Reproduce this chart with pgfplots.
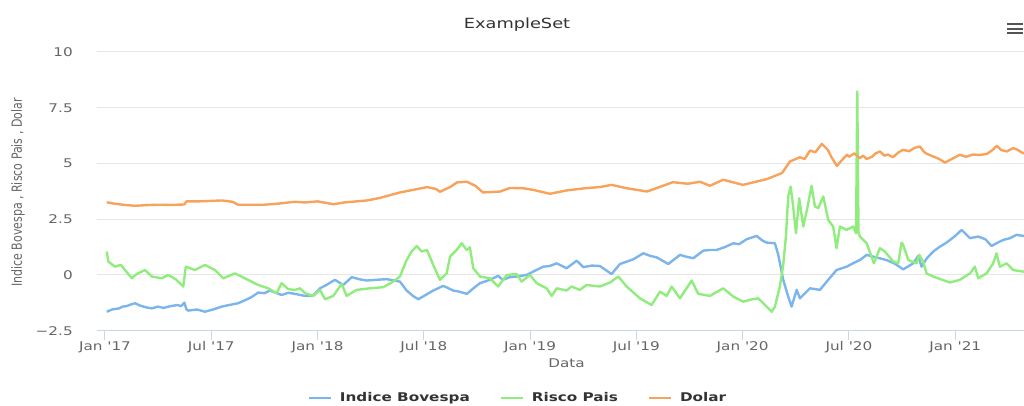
\documentclass[border=0pt]{standalone}
\usepackage{fontspec}
\setmainfont{DejaVu Sans}
\usepackage{pgfplots}
\pgfplotsset{compat=1.18}

\definecolor{bov}{HTML}{7CB5EC}
\definecolor{risco}{HTML}{90ED7D}
\definecolor{dolar}{HTML}{F7A35C}
\definecolor{txt}{HTML}{333333}
\definecolor{lbl}{HTML}{666666}
\definecolor{gridc}{HTML}{E6E6E6}
\definecolor{axisc}{HTML}{CCD6EB}

% the reference text looks stretched sideways
\newcommand{\hs}[1]{\scalebox{1.27}[1]{#1}}
\newcommand{\tl}[2]{\hs{#1 \textquotesingle#2}}

\begin{document}
\begin{tikzpicture}
\useasboundingbox (0,0) rectangle (768pt,304.5pt);
\begin{axis}[
    at={(72.5pt,56.5pt)}, anchor=south west,
    scale only axis, width=703.7pt, height=209pt,
    xmin=-0.47, xmax=52.5, ymin=-2.5, ymax=10,
    axis x line=bottom, axis y line=left,
    y axis line style={draw=none},
    x axis line style={axisc, line width=0.75pt, -},
    xtick={0,6,12,18,24,30,36,42,48},
    xticklabels={\tl{Jan}{17},\tl{Jul}{17},\tl{Jan}{18},\tl{Jul}{18},\tl{Jan}{19},\tl{Jul}{19},\tl{Jan}{20},\tl{Jul}{20},\tl{Jan}{21}},
    ytick={-2.5,0,2.5,5,7.5,10},
    yticklabels={\hs{−2.5},\hs{0},\hs{2.5},\hs{5},\hs{7.5},\hs{10}},
    ymajorgrids, grid style={gridc, line width=0.75pt},
    tick align=outside, major tick length=6.75pt,
    x tick style={axisc, line width=0.75pt},
    y tick style={draw=none},
    tick label style={font=\fontsize{9}{10}\selectfont, text=lbl},
    xticklabel style={anchor=north, inner sep=0pt, yshift=-1pt},
    yticklabel style={anchor=east, inner sep=0pt, xshift=-11pt},
    legend style={at={(0.448,-0.2416)}, anchor=center, draw=none, fill=none,
        legend columns=3, font=\fontsize{9}{10}\selectfont\bfseries, text=txt,
        nodes={inner sep=0pt},
        /tikz/every odd column/.append style={column sep=6pt},
        /tikz/every even column/.append style={column sep=22.5pt}},
    legend image code/.code={\draw[#1, line width=1.5pt] (0pt,0pt) -- (16.5pt,0pt);},
    every axis plot/.append style={line width=1.8pt, line join=round},
]

% Indice Bovespa
\addplot[bov] coordinates {
(0.10,-1.65) (0.4,-1.55) (0.8,-1.50) (1.0,-1.42) (1.2,-1.40) (1.45,-1.33) (1.69,-1.27) (2.0,-1.38) (2.3,-1.45)
(2.64,-1.50) (3.0,-1.42) (3.3,-1.48) (3.7,-1.40) (4.1,-1.35) (4.3,-1.40) (4.48,-1.24) (4.60,-1.55)
(4.70,-1.60) (5.2,-1.55) (5.64,-1.65) (6.1,-1.55) (6.59,-1.42) (7.0,-1.35) (7.52,-1.27)
(8.0,-1.10) (8.3,-0.98) (8.65,-0.79) (9.0,-0.82) (9.31,-0.70) (9.97,-0.90) (10.35,-0.80) (10.73,-0.85) (11.29,-0.94)
(11.76,-0.92) (12.14,-0.60) (12.5,-0.45) (12.98,-0.22) (13.45,-0.45) (13.93,-0.10) (14.4,-0.20) (14.77,-0.25)
(15.3,-0.22) (15.90,-0.19) (16.3,-0.25) (16.65,-0.30) (17.03,-0.70) (17.4,-0.95) (17.69,-1.09) (18.1,-0.90)
(18.53,-0.70) (19.10,-0.49) (19.66,-0.70) (20.0,-0.75) (20.43,-0.85) (20.8,-0.60) (21.17,-0.37) (21.73,-0.22)
(22.20,-0.04) (22.45,-0.22) (22.86,-0.10) (23.24,-0.07) (23.81,0.00) (24.3,0.20) (24.74,0.37)
(25.1,0.40) (25.50,0.52) (26.06,0.30) (26.63,0.64) (27.0,0.35) (27.5,0.42) (27.94,0.40) (28.60,0.04)
(29.07,0.49) (29.82,0.70) (30.39,0.97) (30.8,0.85) (31.14,0.79) (31.80,0.49) (32.46,0.90) (32.8,0.82) (33.21,0.75)
(33.78,1.09) (34.15,1.12) (34.53,1.12) (35.0,1.25) (35.47,1.42) (35.8,1.38) (36.22,1.60) (36.79,1.75)
(37.1,1.55) (37.35,1.45) (37.82,1.42) (38.01,0.90) (38.29,-0.22) (38.57,-0.97) (38.76,-1.42) (39.05,-0.67)
(39.23,-1.05) (39.80,-0.60) (40.36,-0.67) (40.83,-0.22) (41.30,0.22) (41.87,0.37) (42.3,0.55) (42.62,0.67)
(43.00,0.90) (43.37,0.82) (44.12,0.67) (44.6,0.50) (45.06,0.25) (45.63,0.52) (45.91,0.85)
(46.10,0.37) (46.4,0.75) (46.76,1.05) (47.1,1.25) (47.51,1.45) (48.0,1.75) (48.36,2.02) (48.83,1.65) (49.3,1.72)
(49.7,1.60) (50.05,1.30) (50.4,1.45) (50.71,1.57) (51.1,1.65) (51.46,1.80) (51.84,1.75) (52.5,1.80)
};
\addlegendentry{\hs{Indice Bovespa}}

% Risco Pais
\addplot[risco] coordinates {
(0.10,1.05) (0.19,0.60) (0.56,0.37) (0.9,0.45) (1.13,0.22) (1.51,-0.15) (1.8,0.05)
(2.26,0.22) (2.64,-0.07) (3.20,-0.15) (3.57,0.00) (4.0,-0.20) (4.42,-0.52) (4.56,0.37)
(5.08,0.22) (5.64,0.45) (6.21,0.22) (6.68,-0.15) (7.34,0.07) (7.90,-0.15) (8.65,-0.45)
(9.22,-0.60) (9.69,-0.82) (9.97,-0.37) (10.35,-0.64) (10.73,-0.67) (11.01,-0.60) (11.3,-0.82)
(11.76,-0.94) (12.14,-0.67) (12.42,-1.09) (12.89,-0.94) (13.36,-0.40) (13.64,-0.94) (14.21,-0.67)
(14.96,-0.60) (15.71,-0.55) (16.27,-0.30) (16.65,-0.07) (17.03,0.67) (17.31,1.05) (17.60,1.30)
(17.88,1.05) (18.18,1.12) (18.53,0.45) (18.91,-0.22) (19.29,0.07) (19.48,0.82) (19.85,1.12)
(20.14,1.42) (20.42,1.12) (20.60,1.24) (20.79,0.30) (21.17,-0.07) (21.73,-0.15) (22.20,-0.52)
(22.68,0.00) (23.24,0.04) (23.52,-0.30) (23.99,0.00) (24.37,-0.37) (24.93,-0.60) (25.22,-0.94)
(25.50,-0.60) (26.06,-0.70) (26.34,-0.52) (26.8,-0.67) (27.19,-0.45) (27.94,-0.52) (28.51,-0.34)
(28.98,-0.07) (29.45,-0.52) (30.20,-1.05) (30.86,-1.35) (31.33,-0.75) (31.71,-0.94) (31.99,-0.52)
(32.46,-1.05) (33.12,-0.25) (33.49,-0.85) (34.15,-0.94) (34.90,-0.60) (35.47,-0.97) (36.03,-1.20)
(36.5,-1.10) (36.88,-1.05) (37.16,-1.27) (37.64,-1.65) (37.82,-1.42) (38.10,-0.52) (38.29,0.45)
(38.44,1.72) (38.57,3.52) (38.71,3.96) (38.85,3.07) (39.01,1.87) (39.19,3.44) (39.42,2.17)
(39.61,2.85) (39.89,4.00) (40.08,3.07) (40.27,3.00) (40.55,3.52) (40.83,2.47) (41.11,2.17)
(41.30,1.20) (41.49,2.17) (41.87,2.02) (42.24,2.17) (42.40,1.87) (42.47,8.23)
(42.54,1.90) (42.62,1.72) (43.00,1.42) (43.41,0.52) (43.75,1.20) (44.03,1.05) (44.50,0.60)
(44.78,0.52) (44.97,1.45) (45.06,1.35) (45.35,0.67) (45.82,0.52) (45.97,0.90) (46.19,0.60)
(46.38,0.07) (46.76,-0.07) (47.2,-0.20) (47.70,-0.34) (48.26,-0.22) (48.83,0.07) (49.11,0.37) (49.30,-0.15)
(49.77,0.07) (50.14,0.52) (50.33,0.97) (50.52,0.37) (50.90,0.52) (51.27,0.22) (51.84,0.15)
(52.5,0.15)
};
\addlegendentry{\hs{Risco Pais}}

% Dolar
\addplot[dolar] coordinates {
(0.10,3.26) (0.5,3.20) (1.0,3.15) (1.69,3.10) (2.3,3.13) (3.0,3.15) (3.7,3.14) (4.48,3.16)
(4.60,3.30) (5.3,3.30) (6.0,3.32) (6.6,3.34) (7.2,3.28) (7.52,3.15) (8.2,3.15) (9.0,3.15)
(9.8,3.20) (10.7,3.28) (11.3,3.25) (12.0,3.30) (12.9,3.17) (13.5,3.25) (14.79,3.34) (15.5,3.45)
(16.65,3.70) (17.3,3.80) (18.18,3.94) (18.7,3.85) (18.91,3.73) (19.5,3.95) (19.87,4.15)
(20.43,4.18) (20.9,4.00) (21.34,3.70) (22.30,3.74) (22.86,3.90) (23.60,3.89) (24.2,3.81)
(25.12,3.64) (26.06,3.79) (27.0,3.88) (28.0,3.95) (28.60,4.04) (29.45,3.89) (30.60,3.74)
(32.06,4.16) (32.9,4.09) (33.59,4.18) (34.15,4.00) (34.90,4.27) (36.01,4.04) (37.37,4.30)
(38.22,4.57) (38.67,5.09) (39.23,5.28) (39.5,5.20) (39.80,5.58) (40.1,5.50) (40.47,5.88) (40.81,5.61)
(41.0,5.30) (41.32,4.89) (41.6,5.15) (41.89,5.39) (42.0,5.30) (42.3,5.45) (42.62,5.24) (42.8,5.35)
(43.0,5.20) (43.3,5.30) (43.5,5.45) (43.75,5.54) (44.0,5.35) (44.2,5.40) (44.48,5.28) (44.8,5.50)
(45.05,5.61) (45.4,5.55) (45.7,5.70) (46.01,5.76) (46.2,5.55) (46.40,5.43) (46.8,5.30) (47.1,5.20)
(47.42,5.04) (47.8,5.20) (48.26,5.39) (48.6,5.30) (49.0,5.40) (49.4,5.38) (49.79,5.43) (50.1,5.60)
(50.35,5.79) (50.6,5.60) (50.92,5.54) (51.26,5.69) (51.5,5.62) (51.82,5.46) (52.1,5.50) (52.5,5.45)
};
\addlegendentry{\hs{Dolar}}

\end{axis}

\node[text=txt, font=\fontsize{10.5}{12}\selectfont] at (387.75pt,285.75pt) {\hs{ExampleSet}};
\node[rotate=90, text=lbl, font=\fontsize{8.25}{10}\selectfont] at (13.5pt,160.1pt)
    {\scalebox{1}[1.27]{Indice Bovespa , Risco Pais , Dolar}};
\node[text=lbl, font=\fontsize{9}{10}\selectfont] at (424.9pt,32.25pt) {\hs{Data}};
\foreach \yy in {286.5,283.0,279.5}
    \draw[black!67, line width=1.5pt] (755.25pt,\yy pt) -- (767.25pt,\yy pt);
\end{tikzpicture}
\end{document}
